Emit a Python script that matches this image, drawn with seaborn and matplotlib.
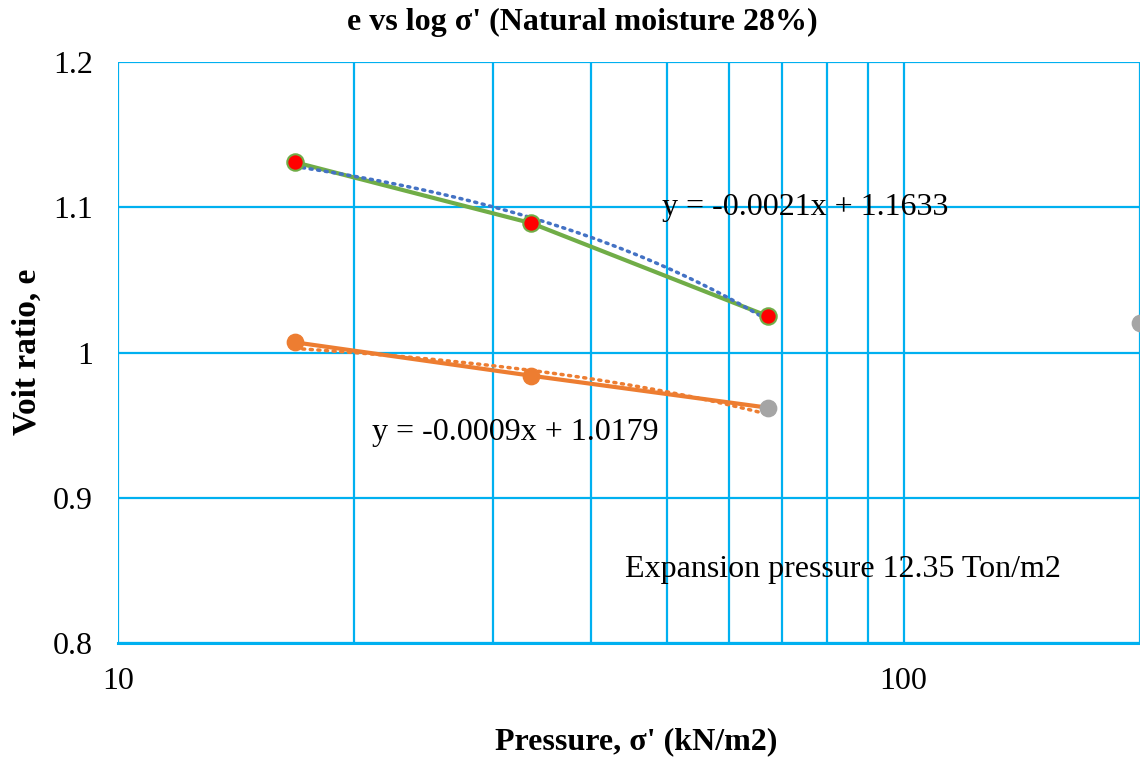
import numpy as np
import pandas as pd
import matplotlib
matplotlib.use("Agg")
import matplotlib.pyplot as plt
import seaborn as sns
from matplotlib.ticker import FixedLocator, FixedFormatter, LogLocator, NullFormatter

# ---- data ----
pressure = [16.8, 33.6, 67.2]
e_green = [1.131, 1.089, 1.025]
e_orange = [1.007, 0.984, 0.962]
extra_x = [200.0]
extra_e = [1.020]
trend_green = (-0.0021, 1.1633)
trend_orange = (-0.0009, 1.0179)
eq_green = "y = -0.0021x + 1.1633"
eq_orange = "y = -0.0009x + 1.0179"
note = "Expansion pressure 12.35 Ton/m2"
title = "e vs log σ' (Natural moisture 28%)"
xlabel = "Pressure, σ' (kN/m2)"
ylabel = "Voit ratio, e"
yticks = [0.8, 0.9, 1.0, 1.1, 1.2]
yticklabels = ["0.8", "0.9", "1", "1.1", "1.2"]
xticks = [10, 100]
xticklabels = ["10", "100"]

sns.set_theme(style="white")
plt.rcParams['font.family'] = ['Liberation Serif', 'DejaVu Serif']
plt.rcParams['text.color'] = 'black'
plt.rcParams['xtick.color'] = 'black'
plt.rcParams['ytick.color'] = 'black'

GRID = "#00B0F0"
GREEN = "#70AD47"
ORANGE = "#ED7D31"
BLUE = "#4472C4"
GREY = "#A5A5A5"

fig = plt.figure(figsize=(11.4, 7.58), dpi=100)
ax = fig.add_axes([118/1140, 1 - 643/758, 1 - 118/1140, (643 - 62)/758])

ax.set_xscale("log")
ax.set_xlim(10, 200)
ax.set_ylim(0.8, 1.2)

# grid
ax.xaxis.set_major_locator(FixedLocator(xticks))
ax.xaxis.set_major_formatter(FixedFormatter(xticklabels))
ax.xaxis.set_minor_locator(LogLocator(base=10, subs=np.arange(2, 10)))
ax.xaxis.set_minor_formatter(NullFormatter())
ax.yaxis.set_major_locator(FixedLocator(yticks))
ax.yaxis.set_major_formatter(FixedFormatter(yticklabels))
ax.grid(True, which="major", axis="both", color=GRID, lw=1.6)
ax.grid(True, which="minor", axis="x", color=GRID, lw=1.6)
ax.set_axisbelow(True)
for s in ["top", "right", "left"]:
    ax.spines[s].set_visible(False)
ax.spines["bottom"].set_color(GRID)
ax.spines["bottom"].set_linewidth(2.2)
ax.tick_params(axis="both", which="both", length=0, labelsize=23)
ax.tick_params(axis="x", pad=17)
ax.tick_params(axis="y", pad=18)

# trendlines
xs = np.geomspace(pressure[0], pressure[-1], 60)
tg = pd.DataFrame({"x": xs, "y": trend_green[0] * xs + trend_green[1]})
to = pd.DataFrame({"x": xs, "y": trend_orange[0] * xs + trend_orange[1]})
sns.lineplot(data=tg, x="x", y="y", ax=ax, color=BLUE, lw=2.5, linestyle=(0, (0.6, 1.6)),
             dash_capstyle="round", zorder=4)
sns.lineplot(data=to, x="x", y="y", ax=ax, color=ORANGE, lw=2.5, linestyle=(0, (0.6, 1.6)),
             dash_capstyle="round", zorder=4)

# series lines
dg = pd.DataFrame({"x": pressure, "y": e_green})
do = pd.DataFrame({"x": pressure, "y": e_orange})
sns.lineplot(data=dg, x="x", y="y", ax=ax, color=GREEN, lw=3, zorder=3)
sns.lineplot(data=do, x="x", y="y", ax=ax, color=ORANGE, lw=3, zorder=3)

# markers
sns.scatterplot(data=dg, x="x", y="y", ax=ax, color="#FF0000", edgecolor=GREEN,
                linewidth=1.5, s=140, zorder=5)
sns.scatterplot(data=do.iloc[:2], x="x", y="y", ax=ax, color=ORANGE, edgecolor=ORANGE,
                s=140, zorder=5)
sns.scatterplot(x=[pressure[2]], y=[e_orange[2]], ax=ax, color=GREY, edgecolor=GREY,
                s=140, zorder=5)
sns.scatterplot(x=extra_x, y=extra_e, ax=ax, color=GREY, edgecolor=GREY,
                s=140, zorder=5, clip_on=False)

# annotations
fig.text(662/1140, 1 - 207/758, eq_green, fontsize=23, va="center", ha="left")
fig.text(372/1140, 1 - 432/758, eq_orange, fontsize=23, va="center", ha="left")
fig.text(625/1140, 1 - 570/758, note, fontsize=23, va="center", ha="left")

fig.text(582/1140, 1 - 22/758, title, fontsize=23, fontweight="bold", ha="center", va="center")
ax.set_xlabel("")
ax.set_ylabel("")
fig.text(636/1140, 1 - 742/758, xlabel, fontsize=23, fontweight="bold", ha="center", va="center")
fig.text(27/1140, 1 - 352/758, ylabel, fontsize=24, fontweight="bold", ha="center", va="center",
         rotation=90)

fig.savefig("out.png", dpi=100)
